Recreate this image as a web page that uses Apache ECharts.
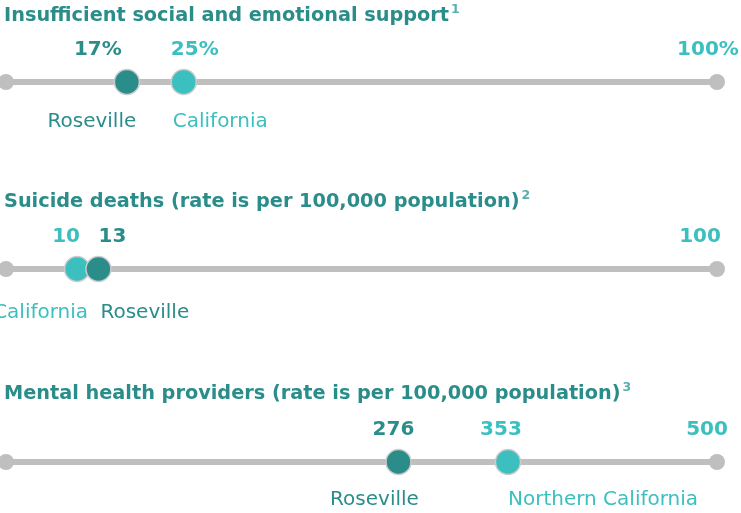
<!DOCTYPE html>
<html>
<head>
<meta charset="utf-8">
<script src="https://cdn.jsdelivr.net/npm/echarts@6/dist/echarts.min.js"></script>
<style>
html,body{margin:0;padding:0;background:#fff;}
#chart{width:741px;height:513px;}
</style>
</head>
<body>
<div id="chart"></div>
<script>
// ---- data ----
const rowTitles = [
  'Insufficient social and emotional support',
  'Suicide deaths (rate is per 100,000 population)',
  'Mental health providers (rate is per 100,000 population)'
];
const footnotes = ['1', '2', '3'];
const axisMax = [100, 100, 500];
const maxLabels = ['100%', '100', '500'];

const row1Names = ['Roseville', 'California'];
const row1Values = [17, 25];
const row1Labels = ['17%', '25%'];

const row2Names = ['California', 'Roseville'];
const row2Values = [10, 13];
const row2Labels = ['10', '13'];

const row3Names = ['Roseville', 'Northern California'];
const row3Values = [276, 353];
const row3Labels = ['276', '353'];

// ---- layout / style ----
const DARK = '#2a8d8a';
const LIGHT = '#3bbfbf';
const GRAY = '#bfbfbf';
const FONT = 'DejaVu Sans';
const lineY = [82, 269, 462];
const titleTop = [3, 189, 381];
const valueDx = [[-29, 11], [-11, 14], [-5, -7]];
const nameDx = [[-35, -11], [11, 2], [-24, 0]];
const nameAlign = [['center', 'left'], ['right', 'left'], ['center', 'left']];
const endDx = [-9, -17, -10];
const valueDy = -32;
const nameDy = [40, 44, 38];

const rows = [
  {names: row1Names, values: row1Values, labels: row1Labels},
  {names: row2Names, values: row2Values, labels: row2Labels},
  {names: row3Names, values: row3Values, labels: row3Labels}
];

function colorFor(name) { return name === 'Roseville' ? DARK : LIGHT; }

const grids = [], xAxes = [], yAxes = [], series = [], titles = [];
rows.forEach((row, r) => {
  grids.push({left: 6, right: 24, top: lineY[r] - 20, height: 40});
  xAxes.push({type: 'value', gridIndex: r, min: 0, max: axisMax[r], show: false});
  yAxes.push({type: 'value', gridIndex: r, min: -1, max: 1, show: false});
  titles.push({
    text: '{t|' + rowTitles[r] + '}{s|' + footnotes[r] + '}',
    left: 4, top: titleTop[r], padding: 0,
    textStyle: {
      rich: {
        t: {fontFamily: FONT, fontWeight: 'bold', fontSize: 19.3, color: DARK, lineHeight: 22, verticalAlign: 'bottom'},
        s: {fontFamily: FONT, fontSize: 12.5, color: '#5aaeac', lineHeight: 22, verticalAlign: 'top', padding: [0, 0, 0, 2]}
      }
    }
  });
  series.push({
    type: 'line', xAxisIndex: r, yAxisIndex: r, silent: true, animation: false, clip: false,
    symbol: 'circle', symbolSize: 16, z: 1,
    itemStyle: {color: GRAY, opacity: 1},
    lineStyle: {color: GRAY, width: 6},
    data: [
      {value: [0, 0]},
      {value: [axisMax[r], 0], label: {
        show: true, formatter: maxLabels[r], position: 'inside', offset: [endDx[r], valueDy],
        align: 'center', verticalAlign: 'middle',
        fontFamily: FONT, fontWeight: 'bold', fontSize: 20, color: LIGHT
      }}
    ]
  });
  series.push({
    type: 'scatter', xAxisIndex: r, yAxisIndex: r, silent: true, animation: false, z: 3,
    symbolSize: 25,
    data: row.values.map((v, i) => ({
      value: [v, 0],
      itemStyle: {color: colorFor(row.names[i]), borderColor: '#cccccc', borderWidth: 1.5, opacity: 1},
      label: {
        show: true, formatter: row.labels[i], position: 'inside', offset: [valueDx[r][i], valueDy],
        align: 'center', verticalAlign: 'middle',
        fontFamily: FONT, fontWeight: 'bold', fontSize: 20, color: colorFor(row.names[i])
      }
    }))
  });
  series.push({
    type: 'scatter', xAxisIndex: r, yAxisIndex: r, silent: true, animation: false, z: 4,
    symbolSize: 1,
    itemStyle: {color: 'rgba(0,0,0,0)', opacity: 1},
    data: row.values.map((v, i) => ({
      value: [v, 0],
      label: {
        show: true, formatter: row.names[i], position: 'inside', offset: [nameDx[r][i], nameDy[r]],
        align: nameAlign[r][i], verticalAlign: 'middle',
        fontFamily: FONT, fontSize: 20, color: colorFor(row.names[i])
      }
    }))
  });
});

const chart = echarts.init(document.getElementById('chart'), null, {renderer: 'canvas'});
chart.setOption({
  animation: false,
  backgroundColor: '#ffffff',
  title: titles,
  grid: grids,
  xAxis: xAxes,
  yAxis: yAxes,
  series: series
});
</script>
</body>
</html>
